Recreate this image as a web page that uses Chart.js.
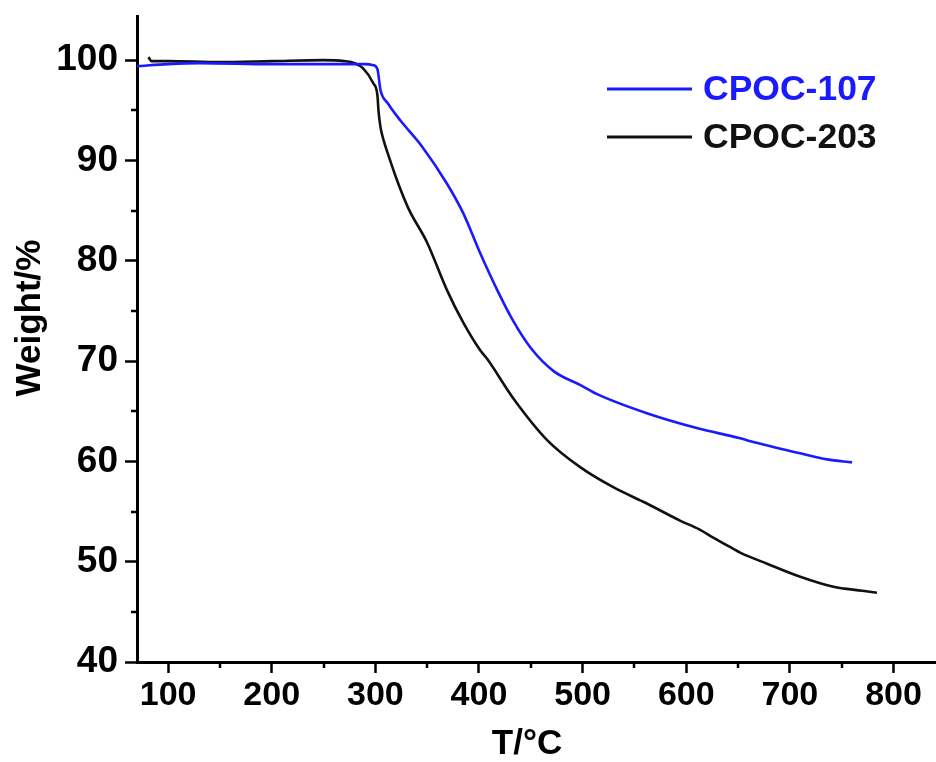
<!DOCTYPE html>
<html>
<head>
<meta charset="utf-8">
<script src="https://cdn.jsdelivr.net/npm/chart.js@4/dist/chart.umd.min.js"></script>
<style>
  html, body { margin: 0; padding: 0; background: #ffffff; }
  #wrap { width: 936px; height: 762px; }
</style>
</head>
<body>
<div id="wrap"><canvas id="tga" width="936" height="762"></canvas></div>
<script>
// TGA curves: temperature (°C) vs remaining weight (%)
const seriesNames = ['CPOC-107', 'CPOC-203'];

const temp107 = [70, 100, 130, 200, 250, 290, 298, 302, 305, 312, 324, 345, 369, 385, 401, 418, 433, 450, 472, 498, 514, 562, 611, 652, 662, 710, 736, 760];
const weight107 = [99.4, 99.6, 99.7, 99.6, 99.6, 99.6, 99.5, 99.1, 97.0, 95.7, 94.0, 91.4, 87.7, 84.7, 80.8, 77.0, 74.0, 71.3, 69.0, 67.6, 66.7, 64.8, 63.3, 62.3, 62.0, 60.8, 60.2, 59.9];

const temp203 = [81, 84, 100, 150, 200, 250, 270, 280, 288, 298, 302, 303, 305, 308, 312, 321, 332, 350, 369, 385, 401, 408, 433, 466, 498, 530, 562, 594, 613, 626, 645, 652, 678, 710, 742, 770, 784];
const weight203 = [100.3, 99.9, 99.9, 99.8, 99.9, 100.0, 99.9, 99.7, 99.2, 97.7, 96.5, 95.0, 93.3, 92.0, 90.7, 88.0, 85.2, 81.8, 77.1, 73.8, 71.1, 70.2, 66.3, 62.1, 59.4, 57.4, 55.8, 54.1, 53.2, 52.4, 51.3, 50.9, 49.8, 48.5, 47.5, 47.1, 46.9];

const xMajorTicks = [100, 200, 300, 400, 500, 600, 700, 800];
const xMinorTicks = [150, 250, 350, 450, 550, 650, 750];
const yMajorTicks = [40, 50, 60, 70, 80, 90, 100];
const yMinorTicks = [45, 55, 65, 75, 85, 95];

const xTitle = 'T/°C';
const yTitle = 'Weight/%';

const seriesColors = ['#1a1aff', '#111111'];
const FONT = '"Liberation Sans", Arial, sans-serif';

const toPoints = (xs, ys) => xs.map((x, i) => ({ x: x, y: ys[i] }));

// short minor tick marks on both axes
const minorTicks = {
  id: 'minorTicks',
  afterDraw(chart) {
    const ctx = chart.ctx;
    const xs = chart.scales.x, ys = chart.scales.y;
    ctx.save();
    ctx.strokeStyle = '#000';
    ctx.lineWidth = 2.5;
    ctx.beginPath();
    xMinorTicks.forEach(v => {
      const px = Math.round(xs.getPixelForValue(v));
      ctx.moveTo(px, xs.top);
      ctx.lineTo(px, xs.top + 6);
    });
    yMinorTicks.forEach(v => {
      const py = Math.round(ys.getPixelForValue(v));
      ctx.moveTo(ys.right, py);
      ctx.lineTo(ys.right - 6, py);
    });
    ctx.stroke();
    ctx.restore();
  }
};

// axis titles
const axisTitles = {
  id: 'axisTitles',
  afterDraw(chart) {
    const ctx = chart.ctx;
    ctx.save();
    ctx.fillStyle = '#000';
    ctx.font = 'bold 35px ' + FONT;
    ctx.textAlign = 'center';
    ctx.textBaseline = 'middle';
    ctx.fillText(xTitle, 527, 744);
    ctx.translate(30, 318);
    ctx.rotate(-Math.PI / 2);
    ctx.fillText(yTitle, 0, 0);
    ctx.restore();
  }
};

// legend drawn inside the plot, upper right
const insideLegend = {
  id: 'insideLegend',
  afterDraw(chart) {
    const ctx = chart.ctx;
    ctx.save();
    chart.data.datasets.forEach((ds, i) => {
      const y = 89 + i * 48;
      ctx.strokeStyle = ds.borderColor;
      ctx.lineWidth = 3;
      ctx.beginPath();
      ctx.moveTo(607, y);
      ctx.lineTo(692, y);
      ctx.stroke();
      ctx.fillStyle = ds.borderColor;
      ctx.font = 'bold 35.5px ' + FONT;
      ctx.textBaseline = 'middle';
      ctx.textAlign = 'left';
      ctx.fillText(ds.label, 703, y + 1);
    });
    ctx.restore();
  }
};

new Chart(document.getElementById('tga'), {
  type: 'line',
  data: {
    datasets: [
      { label: seriesNames[0], data: toPoints(temp107, weight107), borderColor: seriesColors[0], borderWidth: 2.6, pointRadius: 0, cubicInterpolationMode: 'monotone', fill: false },
      { label: seriesNames[1], data: toPoints(temp203, weight203), borderColor: seriesColors[1], borderWidth: 2.6, pointRadius: 0, cubicInterpolationMode: 'monotone', fill: false }
    ]
  },
  options: {
    responsive: false,
    animation: false,
    layout: { padding: { top: 16, right: 0, left: 0, bottom: 0 } },
    plugins: { legend: { display: false }, tooltip: { enabled: false } },
    scales: {
      x: {
        type: 'linear',
        min: 70,
        max: 841,
        afterBuildTicks: s => { s.ticks = xMajorTicks.map(v => ({ value: v })); },
        afterFit: s => { s.height = 100; s.paddingLeft = 0; s.paddingRight = 0; },
        border: { display: true, color: '#000', width: 3 },
        grid: { drawOnChartArea: false, drawTicks: true, tickLength: 11, tickWidth: 2.5, tickColor: '#000' },
        ticks: { color: '#000', font: { family: FONT, size: 34, weight: 'bold' }, padding: 2, maxRotation: 0, autoSkip: false }
      },
      y: {
        type: 'linear',
        min: 40,
        max: 104.4,
        afterBuildTicks: s => { s.ticks = yMajorTicks.map(v => ({ value: v })); },
        afterFit: s => { s.width = 137; s.paddingTop = 0; s.paddingBottom = 0; },
        border: { display: true, color: '#000', width: 3 },
        grid: { drawOnChartArea: false, drawTicks: true, tickLength: 12, tickWidth: 2.5, tickColor: '#000' },
        ticks: { color: '#000', font: { family: FONT, size: 37, weight: 'bold' }, padding: 7 }
      }
    }
  },
  plugins: [minorTicks, axisTitles, insideLegend]
});
</script>
</body>
</html>
